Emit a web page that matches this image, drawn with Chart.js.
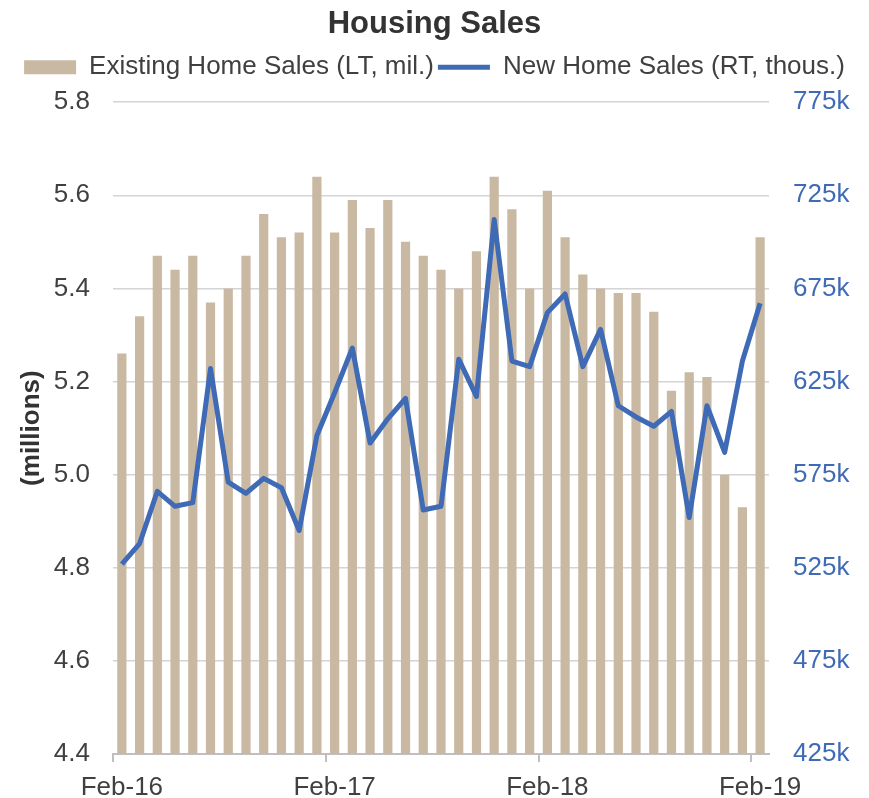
<!DOCTYPE html>
<html>
<head>
<meta charset="utf-8">
<script src="https://cdn.jsdelivr.net/npm/chart.js@4/dist/chart.umd.min.js"></script>
<style>
  html, body { margin: 0; padding: 0; background: #ffffff; }
  #wrap { width: 869px; height: 798px; }
</style>
</head>
<body>
<div id="wrap"><canvas id="c" width="869" height="798"></canvas></div>
<script>
const months = ['Feb-16','Mar-16','Apr-16','May-16','Jun-16','Jul-16','Aug-16','Sep-16','Oct-16','Nov-16','Dec-16','Jan-17',
  'Feb-17','Mar-17','Apr-17','May-17','Jun-17','Jul-17','Aug-17','Sep-17','Oct-17','Nov-17','Dec-17','Jan-18',
  'Feb-18','Mar-18','Apr-18','May-18','Jun-18','Jul-18','Aug-18','Sep-18','Oct-18','Nov-18','Dec-18','Jan-19',
  'Feb-19'];
const shownMonths = ['Feb-16','Feb-17','Feb-18','Feb-19'];
const existingSales = [5.26,5.34,5.47,5.44,5.47,5.37,5.40,5.47,5.56,5.51,5.52,5.64,
  5.52,5.59,5.53,5.59,5.50,5.47,5.44,5.40,5.48,5.64,5.57,5.40,
  5.61,5.51,5.43,5.40,5.39,5.39,5.35,5.18,5.22,5.21,5.00,4.93,
  5.51];
const newSales = [527,538,566,558,560,632,571,565,573,568,545,596,
  619,643,592,605,616,556,558,637,617,712,636,633,
  662,672,633,653,612,606,601,609,552,612,587,636,
  667];
const leftTicks = [4.4,4.6,4.8,5.0,5.2,5.4,5.6,5.8];
const rightTicks = [425,475,525,575,625,675,725,775];

const FONT = "'Liberation Sans', Arial, sans-serif";
const TXT = '#404040';
const BLUE = '#3F6AB5';
const BEIGE = '#C9B9A3';

const legendSpacer = {
  id: 'legendSpacer',
  beforeLayout(chart) {
    const lg = chart.legend;
    if (lg && !lg._spacerPatched) {
      const origFit = lg.fit;
      lg.fit = function () { origFit.call(this); this.height += 12; };
      lg._spacerPatched = true;
    }
  }
};

new Chart(document.getElementById('c'), {
  type: 'bar',
  plugins: [legendSpacer],
  data: {
    labels: months,
    datasets: [
      {
        type: 'bar',
        label: 'Existing Home Sales (LT, mil.)',
        data: existingSales,
        backgroundColor: BEIGE,
        borderWidth: 0,
        yAxisID: 'y',
        categoryPercentage: 1.0,
        barPercentage: 0.52,
        pointStyle: 'rect',
        order: 1
      },
      {
        type: 'line',
        label: 'New Home Sales (RT, thous.)',
        data: newSales,
        borderColor: BLUE,
        backgroundColor: BLUE,
        borderWidth: 5,
        pointRadius: 0,
        tension: 0,
        yAxisID: 'y1',
        pointStyle: 'line',
        borderJoinStyle: 'round',
        order: 0
      }
    ]
  },
  options: {
    responsive: false,
    animation: false,
    layout: { padding: { left: 0, right: 0, top: 0, bottom: 0 } },
    plugins: {
      tooltip: { enabled: false },
      title: {
        display: true,
        text: 'Housing Sales',
        color: '#333333',
        font: { family: FONT, size: 31, weight: 'bold' },
        padding: { top: 6, bottom: 7 }
      },
      legend: {
        display: true,
        labels: {
          usePointStyle: true,
          pointStyleWidth: 52,
          boxHeight: 14,
          padding: 4,
          color: TXT,
          font: { family: FONT, size: 26 },
          sort: (a, b) => a.datasetIndex - b.datasetIndex
        }
      }
    },
    scales: {
      x: {
        offset: true,
        grid: {
          display: true,
          offset: true,
          drawOnChartArea: false,
          drawTicks: true,
          tickLength: 8,
          lineWidth: 2,
          color: (ctx) => (ctx.index % 12 === 0 ? '#BFBFBF' : 'rgba(0,0,0,0)')
        },
        border: { display: true, color: '#BFBFBF', width: 2 },
        ticks: {
          autoSkip: false,
          maxRotation: 0,
          minRotation: 0,
          padding: 10,
          color: TXT,
          font: { family: FONT, size: 26 },
          callback: function (value, index) {
            const lab = months[index];
            return shownMonths.includes(lab) ? lab : '';
          }
        },
        afterFit: (scale) => { scale.height = 44; }
      },
      y: {
        position: 'left',
        min: 4.4,
        max: 5.8,
        afterBuildTicks: (scale) => { scale.ticks = leftTicks.map(v => ({ value: v })); },
        grid: { color: '#D4D4D4', lineWidth: 1.5, drawTicks: false },
        border: { display: false },
        ticks: {
          padding: 23,
          color: TXT,
          font: { family: FONT, size: 26 },
          callback: (v) => Number(v).toFixed(1)
        },
        title: {
          display: true,
          text: '(millions)',
          color: '#333333',
          font: { family: FONT, size: 26, weight: 'bold' },
          padding: { top: 16, bottom: 0 }
        },
        afterFit: (scale) => { scale.width = 113; }
      },
      y1: {
        position: 'right',
        min: 425,
        max: 775,
        afterBuildTicks: (scale) => { scale.ticks = rightTicks.map(v => ({ value: v })); },
        grid: { display: false, drawOnChartArea: false, drawTicks: false },
        border: { display: false },
        ticks: {
          padding: 24,
          color: BLUE,
          font: { family: FONT, size: 26 },
          callback: (v) => v + 'k'
        },
        afterFit: (scale) => { scale.width = 100; }
      }
    }
  }
});
</script>
</body>
</html>
